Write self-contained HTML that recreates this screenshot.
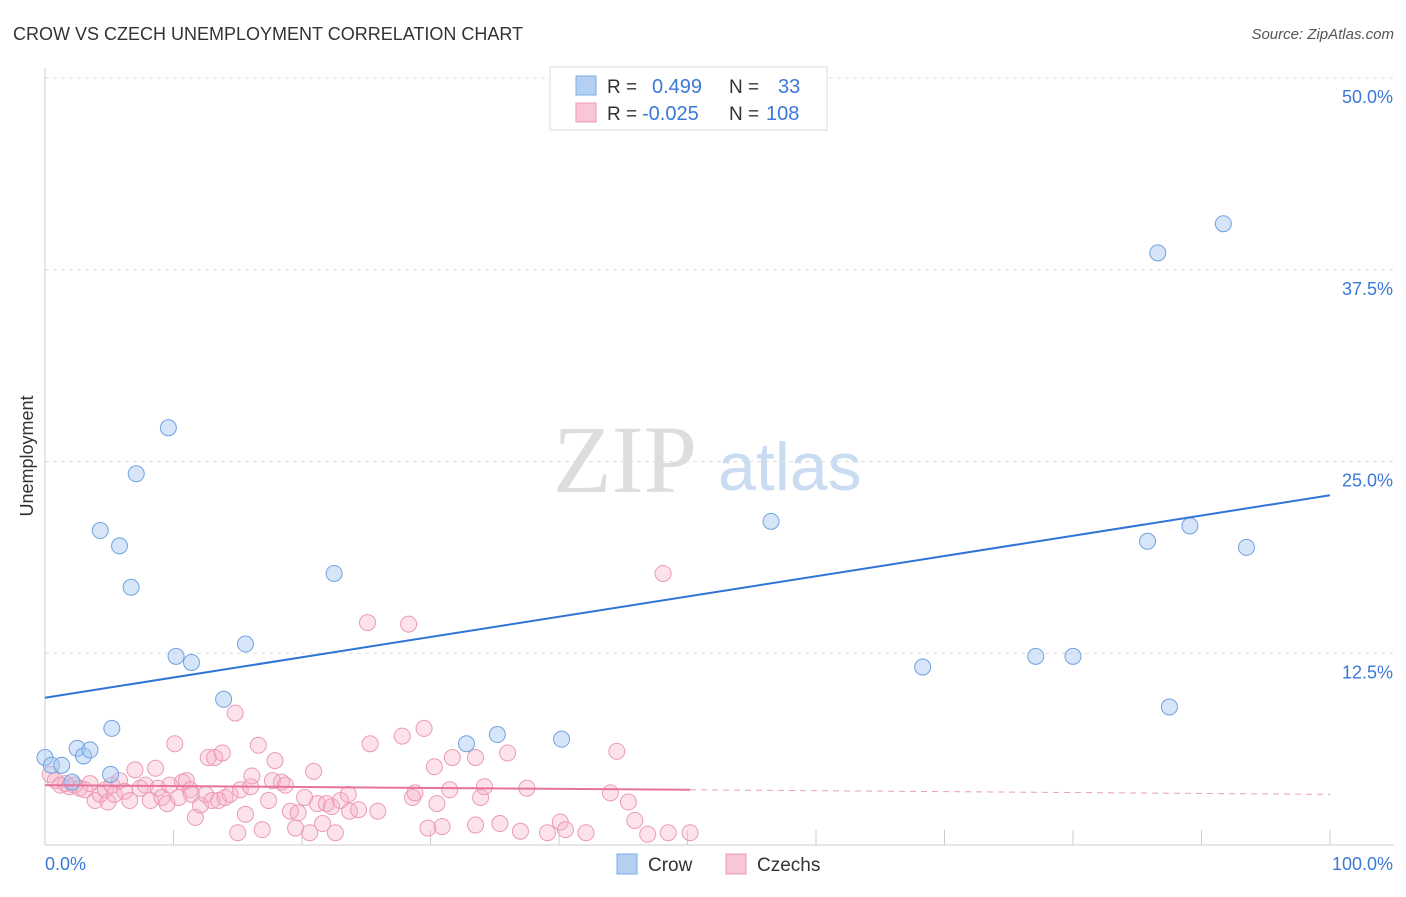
<!DOCTYPE html>
<html><head><meta charset="utf-8"><style>
body{margin:0;background:#fff;width:1406px;height:892px;overflow:hidden;font-family:"Liberation Sans",sans-serif}
</style></head><body>
<svg id="chart" width="1406" height="892" xmlns="http://www.w3.org/2000/svg" font-family="Liberation Sans, sans-serif">
<text x="13" y="40" font-size="18" fill="#333">CROW VS CZECH UNEMPLOYMENT CORRELATION CHART</text>
<text x="1394" y="39" font-size="15" fill="#555" font-style="italic" text-anchor="end">Source: ZipAtlas.com</text>
<text x="553" y="492" font-size="96" font-family="Liberation Serif, serif" fill="#ddd">ZIP</text>
<text x="718" y="490" font-size="68" fill="#c9dcf2">atlas</text>
<text transform="translate(33,456) rotate(-90)" font-size="18" fill="#333" text-anchor="middle">Unemployment</text>
<g id="grid"></g><g id="marks"></g>
<g>
<rect x="550" y="67" width="277" height="63" fill="#fff" stroke="#ddd"/>
<rect x="576" y="76" width="20" height="19" fill="#b3d0f2" stroke="#7aaee6"/>
<rect x="576" y="103" width="20" height="19" fill="#f8c6d4" stroke="#ec9ab5"/>
<text x="607" y="93" font-size="19" fill="#333">R =</text><text x="652" y="93" font-size="20" fill="#3b78d8">0.499</text>
<text x="729" y="93" font-size="19" fill="#333">N =</text><text x="778" y="93" font-size="20" fill="#3b78d8">33</text>
<text x="607" y="120" font-size="19" fill="#333">R =</text><text x="642" y="120" font-size="20" fill="#3b78d8">-0.025</text>
<text x="729" y="120" font-size="19" fill="#333">N =</text><text x="766" y="120" font-size="20" fill="#3b78d8">108</text>
</g>
<g>
<rect x="617" y="854" width="20" height="20" fill="#b3d0f2" stroke="#7aaee6"/>
<text x="648" y="871" font-size="19" fill="#333">Crow</text>
<rect x="726" y="854" width="20" height="20" fill="#f8c6d4" stroke="#ec9ab5"/>
<text x="757" y="871" font-size="19" fill="#333">Czechs</text>
</g>
</svg>
<script>
const yTicks=[12.5,25,37.5,50];
const yTickLabels=["12.5%","25.0%","37.5%","50.0%"];
const xTickVals=[0,10,20,30,40,50,60,70,80,90,100];
const crowX=[0,0.5,1.3,2.1,2.5,3.0,3.5,4.3,5.1,5.2,5.8,6.7,7.1,9.6,10.2,11.4,13.9,15.6,22.5,32.8,35.2,40.2,56.5,68.3,77.1,80,85.8,86.6,87.5,89.1,91.7,93.5];
const crowY=[5.7,5.2,5.2,4.1,6.3,5.8,6.2,20.5,4.6,7.6,19.5,16.8,24.2,27.2,12.3,11.9,9.5,13.1,17.7,6.6,7.2,6.9,21.1,11.6,12.3,12.3,19.8,38.6,9.0,20.8,40.5,19.4];
const czX=[0.4,0.8,1.2,1.6,1.9,2.3,2.7,3.1,3.5,3.9,4.3,4.7,4.9,5.2,5.4,5.8,6.2,6.6,7.0,7.4,7.8,8.2,8.6,8.8,9.1,9.5,9.7,10.1,10.4,10.7,11.0,11.3,11.4,11.7,12.1,12.5,12.7,13.0,13.2,13.5,13.8,14.0,14.4,14.8,15.0,15.2,15.6,16.0,16.1,16.6,16.9,17.4,17.7,17.9,18.4,18.7,19.1,19.5,19.7,20.2,20.6,20.9,21.2,21.6,21.9,22.3,22.6,23.0,23.6,23.7,24.4,25.1,25.3,25.9,27.8,28.3,28.6,28.8,29.5,29.8,30.3,30.5,30.9,31.7,31.5,33.5,33.5,33.9,34.2,35.4,36.0,37.0,37.5,39.1,40.1,40.5,42.1,44.0,44.5,45.4,45.9,46.9,48.1,48.5,50.2];
const czY=[4.6,4.2,3.9,4.0,3.8,3.9,3.7,3.6,4.0,2.9,3.3,3.6,2.8,3.9,3.3,4.2,3.5,2.9,4.9,3.7,3.9,2.9,5.0,3.7,3.1,2.7,3.9,6.6,3.1,4.1,4.2,3.6,3.3,1.8,2.6,3.3,5.7,2.9,5.7,2.9,6.0,3.1,3.3,8.6,0.8,3.6,2.0,3.8,4.5,6.5,1.0,2.9,4.2,5.5,4.1,3.9,2.2,1.1,2.1,3.1,0.8,4.8,2.7,1.4,2.7,2.5,0.8,2.9,3.3,2.2,2.3,14.5,6.6,2.2,7.1,14.4,3.1,3.4,7.6,1.1,5.1,2.7,1.2,5.7,3.6,5.7,1.3,3.1,3.8,1.4,6.0,0.9,3.7,0.8,1.5,1.0,0.8,3.4,6.1,2.8,1.6,0.7,17.7,0.8,0.8];
const crowTrend=[9.6,22.8];
const czTrend=[3.9,3.3];
const X=v=>45+v*12.85, Y=v=>845-v*15.34;
const NS="http://www.w3.org/2000/svg";
function mk(t,a,p){const e=document.createElementNS(NS,t);for(const k in a)e.setAttribute(k,a[k]);p.appendChild(e);return e;}
const grid=document.getElementById('grid'),marks=document.getElementById('marks');
yTicks.forEach((v,i)=>{
 const l=mk('line',{x1:45,x2:1394,y1:Y(v),y2:Y(v),stroke:'#ddd','stroke-dasharray':'4,4'},grid);
 
 
 const t=mk('text',{x:1393,y:Y(v)+25,'font-size':18,fill:'#3b78d8','text-anchor':'end'},grid);t.textContent=yTickLabels[i];
 
 
});
let a=mk('line',{x1:45,x2:45,y1:68,y2:845,stroke:'#ccc'},grid);


a=mk('line',{x1:45,x2:1394,y1:845,y2:845,stroke:'#ccc'},grid);


xTickVals.forEach(v=>{const l=mk('line',{x1:X(v),x2:X(v),y1:830,y2:845,stroke:'#ccc'},grid);
 
 });
let t=mk('text',{x:45,y:870,'font-size':18,fill:'#3b78d8'},grid);t.textContent='0.0%';


t=mk('text',{x:1393,y:870,'font-size':18,fill:'#3b78d8','text-anchor':'end'},grid);t.textContent='100.0%';


czX.forEach((x,i)=>{const c=mk('circle',{cx:X(x),cy:Y(czY[i]),r:8,fill:'rgba(245,175,198,0.35)',stroke:'#ec9ab5','stroke-width':1},marks);
 
 });
crowX.forEach((x,i)=>{const c=mk('circle',{cx:X(x),cy:Y(crowY[i]),r:8,fill:'rgba(165,198,240,0.45)',stroke:'#6fa3e0','stroke-width':1},marks);
 
 });
let l=mk('line',{x1:X(0),y1:Y(crowTrend[0]),x2:X(100),y2:Y(crowTrend[1]),stroke:'#2f74d6','stroke-width':2},marks);


const czAt=v=>czTrend[0]+(czTrend[1]-czTrend[0])*v/100;
l=mk('line',{x1:X(0),y1:Y(czAt(0)),x2:X(50.2),y2:Y(czAt(50.2)),stroke:'#e8739a','stroke-width':2},marks);


l=mk('line',{x1:X(50.2),y1:Y(czAt(50.2)),x2:X(100),y2:Y(czAt(100)),stroke:'#e8a0b8','stroke-width':1,'stroke-dasharray':'6,5'},marks);


</script>
</body></html>
